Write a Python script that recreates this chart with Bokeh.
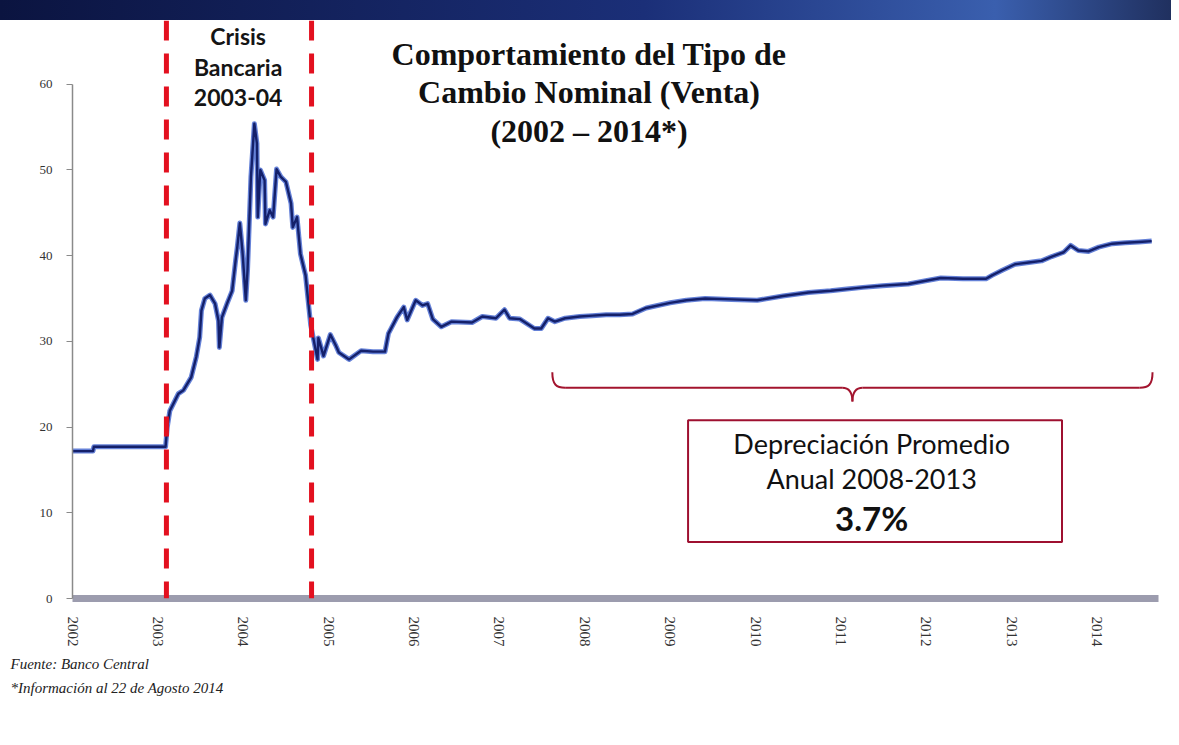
from bokeh.plotting import figure
from bokeh.models import Range1d, FixedTicker, Span, BoxAnnotation, Title, Div, ColumnDataSource
from bokeh.layouts import column
from bokeh.core.properties import value
from bokeh.embed import file_html
from bokeh.resources import INLINE

# ---------------- data ----------------
fecha = [2002.00, 2002.24, 2002.25, 2003.09, 2003.11, 2003.14, 2003.24, 2003.30, 2003.39,
         2003.45, 2003.49, 2003.51, 2003.55, 2003.61, 2003.67, 2003.71, 2003.72, 2003.75,
         2003.81, 2003.87, 2003.91, 2003.93, 2003.96, 2003.99, 2004.03, 2004.05, 2004.09,
         2004.13, 2004.16, 2004.17, 2004.20, 2004.25, 2004.26, 2004.31, 2004.35, 2004.39,
         2004.44, 2004.50, 2004.56, 2004.58, 2004.63, 2004.67, 2004.73, 2004.77, 2004.79,
         2004.87, 2004.88, 2004.94, 2005.02, 2005.08, 2005.12, 2005.24, 2005.38, 2005.52,
         2005.66, 2005.70, 2005.80, 2005.88, 2005.92, 2006.02, 2006.10, 2006.16, 2006.22,
         2006.32, 2006.44, 2006.68, 2006.80, 2006.96, 2007.06, 2007.12, 2007.24, 2007.41,
         2007.49, 2007.57, 2007.65, 2007.77, 2007.94, 2008.09, 2008.25, 2008.41, 2008.56,
         2008.72, 2009.00, 2009.19, 2009.41, 2009.72, 2010.02, 2010.32, 2010.62, 2010.88,
         2011.07, 2011.26, 2011.49, 2011.79, 2012.01, 2012.17, 2012.43, 2012.70, 2012.77,
         2012.89, 2013.04, 2013.20, 2013.35, 2013.47, 2013.61, 2013.69, 2013.78, 2013.90,
         2014.02, 2014.18, 2014.33, 2014.49, 2014.64]
tipo_cambio = [17.2, 17.2, 17.7, 17.7, 20.0, 21.9, 23.9, 24.3, 25.8,
               28.2, 30.5, 33.6, 35.0, 35.4, 34.4, 32.4, 29.3, 32.8,
               34.4, 35.9, 39.4, 41.0, 43.8, 40.6, 34.8, 38.3, 49.2,
               55.4, 53.1, 44.5, 50.0, 48.8, 43.7, 45.3, 44.5, 50.1,
               49.2, 48.6, 46.1, 43.3, 44.5, 40.2, 37.7, 33.8, 31.9,
               27.9, 30.4, 28.3, 30.8, 29.6, 28.7, 27.9, 28.9, 28.8,
               28.8, 30.9, 32.8, 34.0, 32.5, 34.8, 34.2, 34.4, 32.6,
               31.7, 32.3, 32.2, 32.9, 32.7, 33.7, 32.7, 32.6, 31.5,
               31.5, 32.7, 32.3, 32.7, 32.9, 33.0, 33.1, 33.1, 33.2,
               33.9, 34.5, 34.8, 35.0, 34.9, 34.8, 35.3, 35.7, 35.9,
               36.1, 36.3, 36.5, 36.7, 37.1, 37.4, 37.3, 37.3, 37.7,
               38.3, 39.0, 39.2, 39.4, 39.9, 40.4, 41.2, 40.6, 40.5,
               41.0, 41.4, 41.5, 41.6, 41.7]

anios = list(range(2002, 2015))
etiquetas_anio = [str(a) for a in anios]
ticks_y = [0, 10, 20, 30, 40, 50, 60]

crisis_inicio = 2003.1
crisis_fin = 2004.8
llave_inicio = 2007.62
llave_fin = 2014.65

titulo = ["Comportamiento del Tipo de", "Cambio Nominal (Venta)", "(2002 \u2013 2014*)"]
crisis_texto = ["Crisis", "Bancaria", "2003-04"]
recuadro_texto = ["Depreciaci\u00f3n Promedio", "Anual 2008-2013", "3.7%"]
fuente = "Fuente: Banco Central"
nota = "*Informaci\u00f3n al 22 de Agosto 2014"

# ---------------- figure ----------------
X0, X1 = 2002.0, 2014.72
Y0, Y1 = 0.0, 67.44

p = figure(frame_width=1086, frame_height=578, x_range=Range1d(X0, X1), y_range=Range1d(Y0, Y1),
           output_backend="svg", toolbar_location=None,
           min_border_left=72, min_border_right=13, min_border_top=0, min_border_bottom=20)
p.outline_line_color = None
p.xgrid.visible = False
p.ygrid.visible = False
p.background_fill_color = "white"
p.border_fill_color = "white"

# y axis
p.yaxis.ticker = FixedTicker(ticks=ticks_y)
p.yaxis.bounds = (0, 60)
p.yaxis.axis_line_color = "#8a8a8a"
p.yaxis.axis_line_width = 1.5
p.yaxis.major_tick_out = 6
p.yaxis.major_tick_in = 0
p.yaxis.major_tick_line_color = "#8a8a8a"
p.yaxis.minor_tick_line_color = None
p.yaxis.major_label_text_font = "Liberation Serif"
p.yaxis.major_label_text_font_size = "13px"
p.yaxis.major_label_text_color = "#333333"
p.yaxis.major_label_standoff = 14

# x axis
p.xaxis.ticker = FixedTicker(ticks=anios)
p.xaxis.major_label_overrides = {a: s for a, s in zip(anios, etiquetas_anio)}
p.xaxis.bounds = (2002, 2014.72)
p.xaxis.axis_line_color = "#9c9cae"
p.xaxis.axis_line_width = 7
p.xaxis.major_tick_line_color = None
p.xaxis.minor_tick_line_color = None
p.xaxis.major_label_orientation = "vertical"
p.xaxis.major_label_text_font = "Liberation Serif"
p.xaxis.major_label_text_font_size = "15px"
p.xaxis.major_label_text_color = "#333333"
p.xaxis.major_label_standoff = 12

# crisis lines
for loc in (crisis_inicio, crisis_fin):
    p.add_layout(Span(location=loc, dimension="height", line_color="#e3101f",
                      line_width=5, line_dash="20 13"))

# series
src = ColumnDataSource(dict(x=fecha, y=tipo_cambio))
p.line("x", "y", source=src, line_color="#4a6bd0", line_width=5, line_alpha=0.85, line_join="round")
p.line("x", "y", source=src, line_color="#14206a", line_width=2.4, line_join="round")

# title
ttl = ColumnDataSource(dict(x=[2008.05] * 3, y=[63.5, 59.1, 54.6], t=titulo))
p.text("x", "y", text="t", source=ttl, text_font=value("Liberation Serif"), text_font_style="bold",
       text_font_size="32px", text_align="center", text_baseline="middle", text_color="#111111")

# crisis label
cri = ColumnDataSource(dict(x=[2003.94] * 3, y=[65.6, 62.0, 58.4], t=crisis_texto))
p.text("x", "y", text="t", source=cri, text_font=value("Lato"), text_font_style="bold",
       text_font_size="23px", text_align="center", text_baseline="middle", text_color="#151515")

# brace
yb = 24.6
xm = (llave_inicio + llave_fin) / 2
p.bezier(x0=[llave_inicio, llave_inicio + 0.15, xm - 0.12, xm, xm + 0.12, llave_fin - 0.15],
         y0=[yb + 1.8, yb, yb, yb - 1.6, yb, yb],
         x1=[llave_inicio + 0.15, xm - 0.12, xm, xm + 0.12, llave_fin - 0.15, llave_fin],
         y1=[yb, yb, yb - 1.6, yb, yb, yb + 1.8],
         cx0=[llave_inicio, llave_inicio + 0.15, xm - 0.03, xm, xm + 0.12, llave_fin - 0.05],
         cy0=[yb + 0.3, yb, yb, yb - 0.6, yb, yb],
         cx1=[llave_inicio + 0.05, xm - 0.12, xm, xm + 0.03, llave_fin - 0.15, llave_fin],
         cy1=[yb, yb, yb - 0.6, yb, yb, yb + 0.3],
         line_color="#a3142e", line_width=2)

# box
p.add_layout(BoxAnnotation(left=2009.21, right=2013.59, bottom=6.6, top=20.8,
                           fill_color="white", fill_alpha=1.0, level="underlay",
                           line_color="#9e1030", line_width=2, line_alpha=1.0))
bx = ColumnDataSource(dict(x=[2011.36] * 2, y=[18.1, 14.0], t=recuadro_texto[:2]))
p.text("x", "y", text="t", source=bx, text_font=value("Lato"), text_font_size="27px",
       text_align="center", text_baseline="middle", text_color="#111111")
p.text(x=[2011.36], y=[9.4], text=[recuadro_texto[2]], text_font=value("Lato"), text_font_style="bold",
       text_font_size="33px", text_align="center", text_baseline="middle", text_color="#111111")

# footnotes
p.add_layout(Title(text=fuente, align="left", offset=-62, text_font="Liberation Serif",
                   text_font_style="italic", text_font_size="15px", text_color="#222222",
                   standoff=8), "below")
p.add_layout(Title(text=nota, align="left", offset=-62, text_font="Liberation Serif",
                   text_font_style="italic", text_font_size="15px", text_color="#222222",
                   standoff=4), "below")

header = Div(text="", width=1171, height=20, margin=(0, 0, 0, 0),
             styles={"background": "linear-gradient(90deg, #0b1440 0%, #1b2f78 55%, #3a5fae 85%, #20305f 100%)"})

layout = column(header, p, spacing=0)
open("out.html", "w").write(file_html(layout, INLINE))
